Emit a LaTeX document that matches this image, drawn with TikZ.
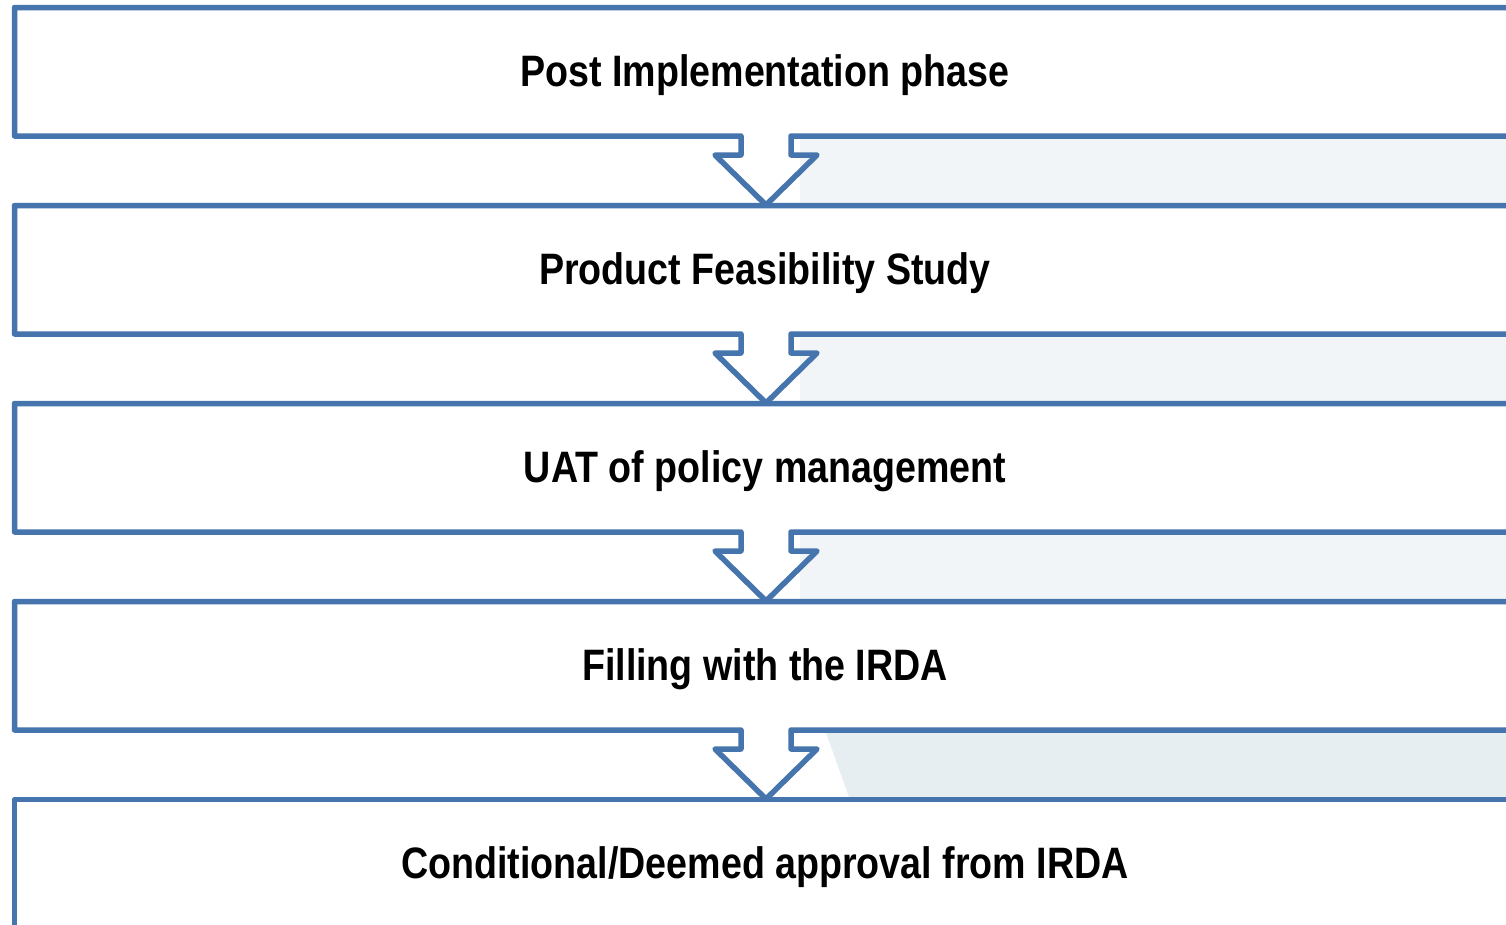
\documentclass[tikz,border=0pt]{standalone}
\usepackage{fontspec}
\setmainfont{Liberation Sans}[FakeStretch=0.855]
\definecolor{boxblue}{RGB}{70,116,172}
\definecolor{wmark}{RGB}{242,245,248}
\definecolor{wmarkb}{RGB}{231,238,242}
\begin{document}
\begin{tikzpicture}[x=1pt,y=-1pt,
  flowline/.style={draw=boxblue,line width=5.5pt,line join=round,line cap=butt},
  steplabel/.style={anchor=base,inner sep=0pt,font=\fontsize{44}{50}\selectfont\bfseries}]
\useasboundingbox (0,0) rectangle (1506,924);
\fill[white] (0,0) rectangle (1506,924);
% faint watermark in the gaps
\foreach \i in {0,1,2}{
  \fill[wmark] (800,{136+198*\i}) rectangle (1506,{205+198*\i});
}
\fill[wmarkb] (825,730) -- (1506,730) -- (1506,800) -- (850,800) -- cycle;
% boxes with arrow outlets
\foreach \i/\nm in {0/a,1/b,2/c,3/d}{
  \pgfmathsetmacro{\t}{7.5+198*\i}
  \pgfmathsetmacro{\b}{136+198*\i}
  \coordinate (\nm-tr) at (1520,\t);
  \coordinate (\nm-tl) at (14.5,\t);
  \coordinate (\nm-bl) at (14.5,\b);
  \coordinate (\nm-sl) at (741,\b);
  \coordinate (\nm-hl) at (741,\b+19);
  \coordinate (\nm-wl) at (715,\b+19);
  \coordinate (\nm-tip) at (766,\b+69);
  \coordinate (\nm-wr) at (817,\b+19);
  \coordinate (\nm-hr) at (791,\b+19);
  \coordinate (\nm-sr) at (791,\b);
  \coordinate (\nm-br) at (1520,\b);
  \draw[flowline] (\nm-tr) -- (\nm-tl) -- (\nm-bl) -- (\nm-sl) -- (\nm-hl) -- (\nm-wl)
     -- (\nm-tip) -- (\nm-wr) -- (\nm-hr) -- (\nm-sr) -- (\nm-br);
}
% last box (cut off at bottom)
\coordinate (e-tr) at (1520,799.5);
\coordinate (e-tl) at (14.5,799.5);
\coordinate (e-bl) at (14.5,940);
\draw[flowline] (e-tr) -- (e-tl) -- (e-bl);
% labels
\node[steplabel] (la) at (765,86) {Post Implementation phase};
\node[steplabel] (lb) at (765,284) {Product Feasibility Study};
\node[steplabel] (lc) at (765,482) {UAT of policy management};
\node[steplabel] (ld) at (765,680) {Filling with the IRDA};
\node[steplabel] (le) at (765,878) {Conditional/Deemed approval from IRDA};
\end{tikzpicture}
\end{document}
